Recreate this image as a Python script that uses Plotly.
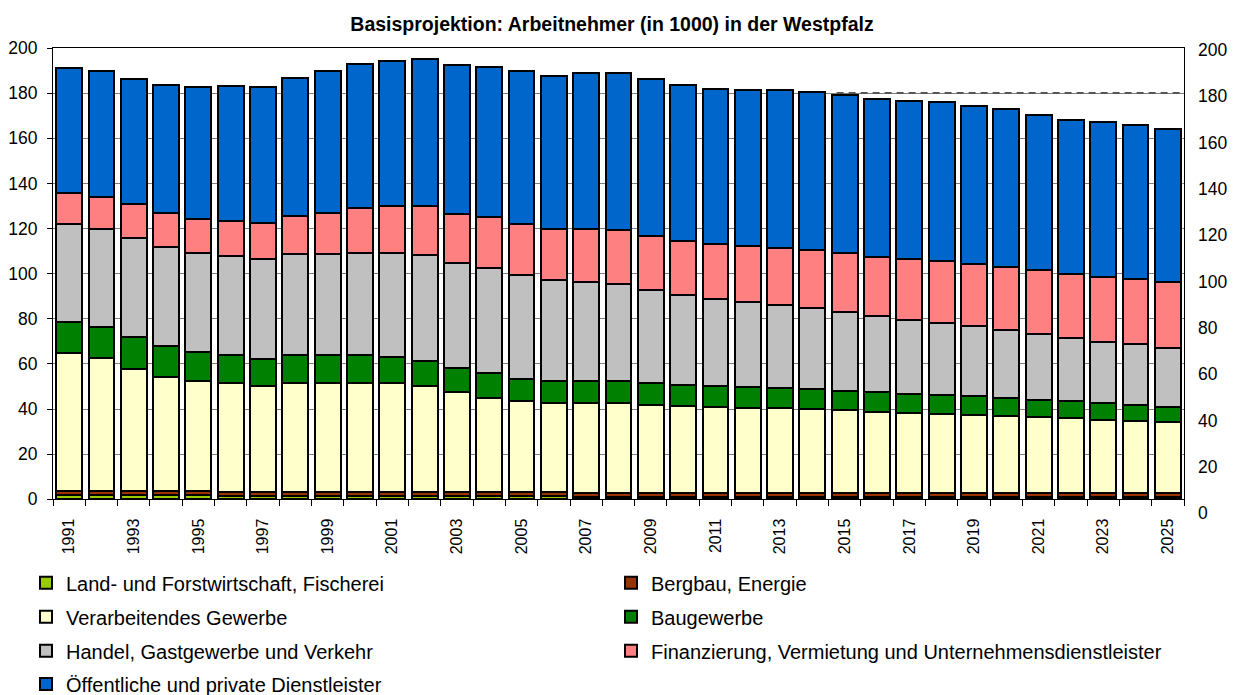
import plotly.graph_objects as go

years = list(range(1991, 2026))

land = [1.9, 1.9, 1.8, 1.8, 1.7, 1.6, 1.6, 1.5, 1.5, 1.5, 1.4, 1.4, 1.4, 1.3, 1.3, 1.3, 1.2, 1.2,
        1.2, 1.1, 1.1, 1.1, 1.1, 1.0, 1.0, 1.0, 1.0, 1.0, 1.0, 0.9, 0.9, 0.9, 0.9, 0.9, 0.9]
bergbau = [1.9, 1.9, 1.9, 1.9, 1.8, 1.8, 1.8, 1.8, 1.8, 1.8, 1.8, 1.8, 1.8, 1.8, 1.8, 1.8, 1.8, 1.8,
           1.8, 1.8, 1.8, 1.8, 1.8, 1.8, 1.8, 1.8, 1.8, 1.8, 1.8, 1.8, 1.8, 1.8, 1.8, 1.8, 1.8]
verarb = [60.9, 58.7, 54.2, 50.4, 49.0, 48.0, 46.8, 48.4, 48.4, 48.1, 48.2, 47.0, 44.2, 42.0, 40.6,
          39.5, 39.9, 39.6, 38.8, 38.3, 38.0, 37.7, 37.5, 37.2, 36.8, 35.9, 35.5, 35.2, 34.7, 34.4,
          33.8, 33.2, 32.6, 32.0, 31.4]
bau = [13.9, 14.0, 13.9, 13.9, 13.0, 12.6, 11.9, 12.3, 12.3, 12.5, 11.8, 11.3, 10.7, 10.8, 9.8,
       9.9, 9.6, 9.9, 9.8, 9.5, 9.2, 9.3, 9.1, 8.8, 8.6, 8.9, 8.5, 8.4, 8.2, 7.7, 7.5, 7.6, 7.3, 7.3, 7.0]
handel = [43.3, 43.1, 43.8, 43.6, 43.6, 43.9, 44.5, 44.6, 44.9, 45.2, 45.9, 46.7, 46.6, 46.5, 45.8,
          44.8, 44.0, 43.0, 41.2, 39.8, 38.6, 37.6, 36.8, 36.2, 35.0, 33.6, 32.8, 31.9, 31.2, 30.4,
          29.2, 27.9, 27.3, 26.7, 26.1]
finanz = [13.8, 14.3, 15.1, 15.2, 15.1, 15.6, 15.9, 17.0, 18.2, 20.2, 21.1, 21.6, 21.8, 22.8, 22.8,
          22.6, 23.4, 23.8, 24.0, 24.0, 24.4, 24.7, 25.1, 25.3, 25.9, 26.2, 27.0, 27.4, 27.4, 27.8,
          28.2, 28.4, 28.8, 28.9, 29.0]
oeff = [55.4, 56.0, 55.6, 56.6, 58.3, 59.6, 60.0, 61.2, 62.7, 63.6, 64.0, 65.3, 65.8, 66.6, 67.5,
        67.9, 69.1, 69.7, 69.3, 69.1, 68.8, 69.3, 70.1, 70.3, 70.2, 70.1, 69.9, 70.2, 70.1, 70.1,
        68.9, 68.4, 68.3, 68.1, 67.9]

series_names = [
    "Land- und Forstwirtschaft, Fischerei",
    "Bergbau, Energie",
    "Verarbeitendes Gewerbe",
    "Baugewerbe",
    "Handel, Gastgewerbe und Verkehr",
    "Finanzierung, Vermietung und Unternehmensdienstleister",
    "Öffentliche und private Dienstleister",
]
series_values = [land, bergbau, verarb, bau, handel, finanz, oeff]
series_colors = ["#99CC00", "#993300", "#FFFFCC", "#008000", "#C0C0C0", "#FF8080", "#0066CC"]

# reference level (dashed line) over projection years
ref_years = list(range(2015, 2026))
ref_level = 181.5

tick_years = list(range(1991, 2026, 2))
y_ticks = list(range(0, 201, 20))

FONT = "Liberation Sans, Arial, sans-serif"

W, H = 1239, 695
L, R, T, B = 53, 55, 48, 182
ph = H - T - B
pw = W - L - R

# legend grid: two columns, four rows
col_text_x = [66, 651]
row_centers = [582.7, 616.7, 650.7, 684.0]

fig = go.Figure()
legend_layouts = {}
for i, (name, vals, col) in enumerate(zip(series_names, series_values, series_colors)):
    lg = "legend" if i == 0 else f"legend{i + 1}"
    fig.add_trace(go.Bar(
        x=years, y=vals, name=name, legend=lg,
        marker=dict(color=col, line=dict(color="black", width=2)),
    ))
    legend_layouts[lg] = dict(
        orientation="h", xref="container", yref="container",
        x=(col_text_x[i % 2] - 40) / W, xanchor="left",
        y=1 - row_centers[i // 2] / H, yanchor="middle",
        font=dict(size=20, family=FONT, color="black"),
        bgcolor="rgba(0,0,0,0)", borderwidth=0,
    )

fig.add_trace(go.Scatter(
    x=[ref_years[0] - 0.25, ref_years[-1] + 0.5], y=[ref_level, ref_level],
    mode="lines", line=dict(color="black", width=1, dash="7px,5px"),
    yaxis="y2", showlegend=False, hoverinfo="skip",
))

fig.update_layout(
    width=W, height=H,
    margin=dict(l=L, r=R, t=T, b=B, autoexpand=False),
    paper_bgcolor="white", plot_bgcolor="rgba(0,0,0,0)",
    barmode="stack", bargap=0.2,
    font=dict(family=FONT, color="black", size=17),
    title=dict(text="<b>Basisprojektion: Arbeitnehmer (in 1000) in der Westpfalz</b>",
               x=612 / W, xref="container", xanchor="center",
               y=1 - 24 / H, yref="container", yanchor="middle",
               font=dict(size=19.5, family=FONT, color="black")),
    xaxis=dict(
        range=[years[0] - 0.5, years[-1] + 0.5], automargin=False,
        tickmode="array", tickvals=tick_years, ticktext=[str(y) for y in tick_years],
        tickangle=-90, ticks="", ticklabelstandoff=12,
        tickfont=dict(size=16),
        minor=dict(tickmode="array", tickvals=[y - 0.5 for y in years] + [years[-1] + 0.5],
                   ticks="outside", ticklen=6, tickcolor="black", showgrid=False),
        showline=True, linecolor="black", linewidth=1, mirror=True,
        showgrid=False, zeroline=False,
    ),
    yaxis=dict(
        domain=[(513 - 499.3) / ph, 1.0], automargin=False,
        range=[0, 200], tickvals=y_ticks,
        ticks="outside", ticklen=5, tickcolor="black", ticklabelstandoff=6,
        showline=True, linecolor="black", linewidth=1, mirror=True,
        showgrid=True, gridcolor="#808080", gridwidth=1, zeroline=False,
        tickfont=dict(size=17.5),
    ),
    yaxis2=dict(
        domain=[0.0, (513 - 50) / ph], automargin=False,
        range=[0, 200], tickvals=y_ticks,
        anchor="free", position=1.0, side="right",
        ticks="", ticklabelstandoff=13,
        showline=False, showgrid=False, zeroline=False,
        tickfont=dict(size=17.5),
    ),
    yaxis3=dict(
        domain=[0.0, (513 - 50) / ph], automargin=False,
        range=[0, 200], anchor="free", position=3.5 / pw, side="left",
        showticklabels=False, ticks="", showline=True, linecolor="#808080", linewidth=1,
        showgrid=False, zeroline=False,
    ),
    showlegend=True,
    **legend_layouts,
)

fig.write_html("out.html", config={"displayModeBar": False},
               post_script="document.body.style.margin='0';")
